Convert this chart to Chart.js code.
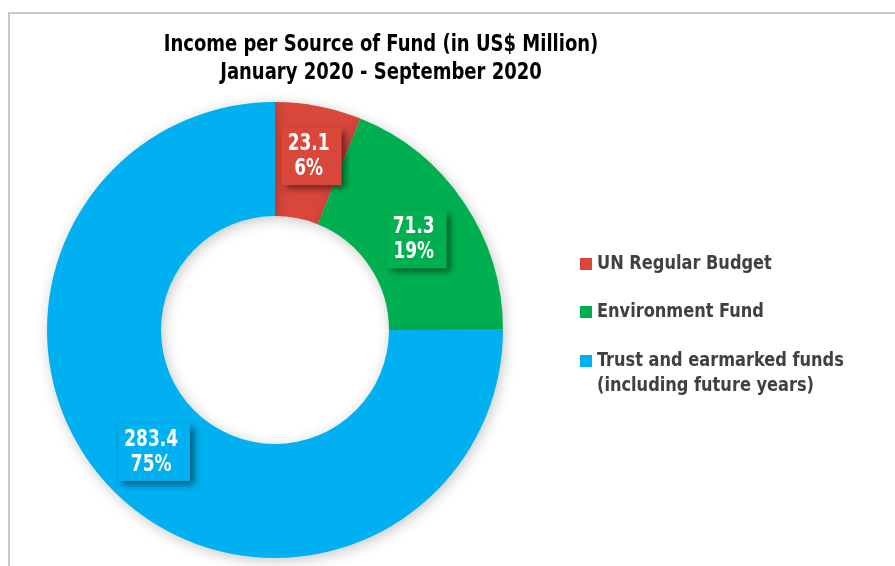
<!DOCTYPE html>
<html lang="en">
<head>
    <meta charset="UTF-8">
    <title>Income per Source of Fund</title>
    <style>
        html, body { margin: 0; padding: 0; background: #fff; overflow: hidden; }
        #frame { position: absolute; left: 8px; top: 12px; width: 1000px; height: 700px; border-left: 2px solid #c8c8c8; border-top: 2px solid #c8c8c8; }
        #wrap { position: absolute; left: 0; top: 0; width: 895px; height: 566px; }
    </style>
</head>
<body>
    <div id="frame"></div>
    <div id="wrap"><canvas id="donut" width="895" height="566"></canvas></div>

    <script src="https://cdn.jsdelivr.net/npm/chart.js"></script>
    <script>
        // values
        const sources = ['UN Regular Budget', 'Environment Fund', 'Trust and earmarked funds (including future years)'];
        const legendLines = [['UN Regular Budget'], ['Environment Fund'], ['Trust and earmarked funds', '(including future years)']];
        const income = [23.1, 71.3, 283.4];
        const colors = ['#D9473A', '#00B050', '#00B0F0'];
        const titleLines = ['Income per Source of Fund (in US$ Million)', 'January 2020 - September 2020'];

        const FONT = "'DejaVu Sans Condensed', 'DejaVu Sans', sans-serif";

        // draw text squeezed horizontally to mimic the condensed face
        function narrowText(ctx, text, x, y, sx) {
            ctx.save();
            ctx.translate(x, y);
            ctx.scale(sx, 1);
            ctx.fillText(text, 0, 0);
            ctx.restore();
        }

        // soft grey shadow under the ring
        const ringShadow = {
            id: 'ringShadow',
            beforeDatasetsDraw(chart) {
                const ctx = chart.ctx;
                ctx.save();
                ctx.shadowColor = 'rgba(0,0,0,0.22)';
                ctx.shadowBlur = 14;
                ctx.shadowOffsetX = 2;
                ctx.shadowOffsetY = 3;
            },
            afterDatasetsDraw(chart) {
                chart.ctx.restore();
            }
        };

        // small nudges of the label boxes off the slice centre, as in the picture
        const labelNudge = [[4, -6], [0, 5], [0, 1]];

        // value + percent in a shadowed box on each slice
        const boxLabels = {
            id: 'boxLabels',
            afterDatasetsDraw(chart) {
                const ctx = chart.ctx;
                const ds = chart.data.datasets[0];
                const total = ds.data.reduce((a, b) => a + b, 0);
                const sx = 0.82;
                chart.getDatasetMeta(0).data.forEach((arc, i) => {
                    const p = arc.tooltipPosition();
                    p.x += labelNudge[i][0];
                    p.y += labelNudge[i][1];
                    const l1 = ds.data[i].toFixed(1);
                    const l2 = Math.round(ds.data[i] / total * 100) + '%';
                    ctx.save();
                    ctx.font = 'bold 23px ' + FONT;
                    const w = Math.max(ctx.measureText(l1).width, ctx.measureText(l2).width) * sx + 18;
                    const h = 58;
                    ctx.shadowColor = 'rgba(0,0,0,0.5)';
                    ctx.shadowBlur = 7;
                    ctx.shadowOffsetX = 4;
                    ctx.shadowOffsetY = 4;
                    ctx.fillStyle = ds.backgroundColor[i];
                    ctx.fillRect(p.x - w / 2, p.y - h / 2, w, h);
                    ctx.shadowColor = 'transparent';
                    ctx.fillStyle = '#fff';
                    ctx.textAlign = 'center';
                    ctx.textBaseline = 'middle';
                    narrowText(ctx, l1, p.x - 3, p.y - 12, sx);
                    narrowText(ctx, l2, p.x - 3, p.y + 13, sx);
                    ctx.restore();
                });
            }
        };

        // title and side legend
        const sideText = {
            id: 'sideText',
            afterDraw(chart) {
                const ctx = chart.ctx;
                ctx.save();
                ctx.fillStyle = '#000';
                ctx.textAlign = 'center';
                ctx.textBaseline = 'middle';
                ctx.font = 'bold 23px ' + FONT;
                titleLines.forEach((t, i) => narrowText(ctx, t, 381, 45 + i * 28, 0.87));

                const ys = [264, 312, 361];
                ctx.textAlign = 'left';
                ctx.font = 'bold 20px ' + FONT;
                legendLines.forEach((lines, i) => {
                    ctx.fillStyle = chart.data.datasets[0].backgroundColor[i];
                    ctx.fillRect(580, ys[i] - 6, 12, 12);
                    ctx.fillStyle = '#404040';
                    lines.forEach((t, j) => narrowText(ctx, t, 597, ys[i] + j * 25, 0.9));
                });
                ctx.restore();
            }
        };

        new Chart(document.getElementById('donut'), {
            type: 'doughnut',
            data: {
                labels: sources,
                datasets: [{
                    data: income,
                    backgroundColor: colors,
                    borderWidth: 0
                }]
            },
            options: {
                responsive: false,
                animation: false,
                cutout: '50%',
                layout: { padding: { left: 47, right: 392, top: 102, bottom: 8 } },
                plugins: {
                    legend: { display: false },
                    title: { display: false },
                    tooltip: { enabled: false }
                }
            },
            plugins: [ringShadow, boxLabels, sideText]
        });
    </script>
</body>
</html>
